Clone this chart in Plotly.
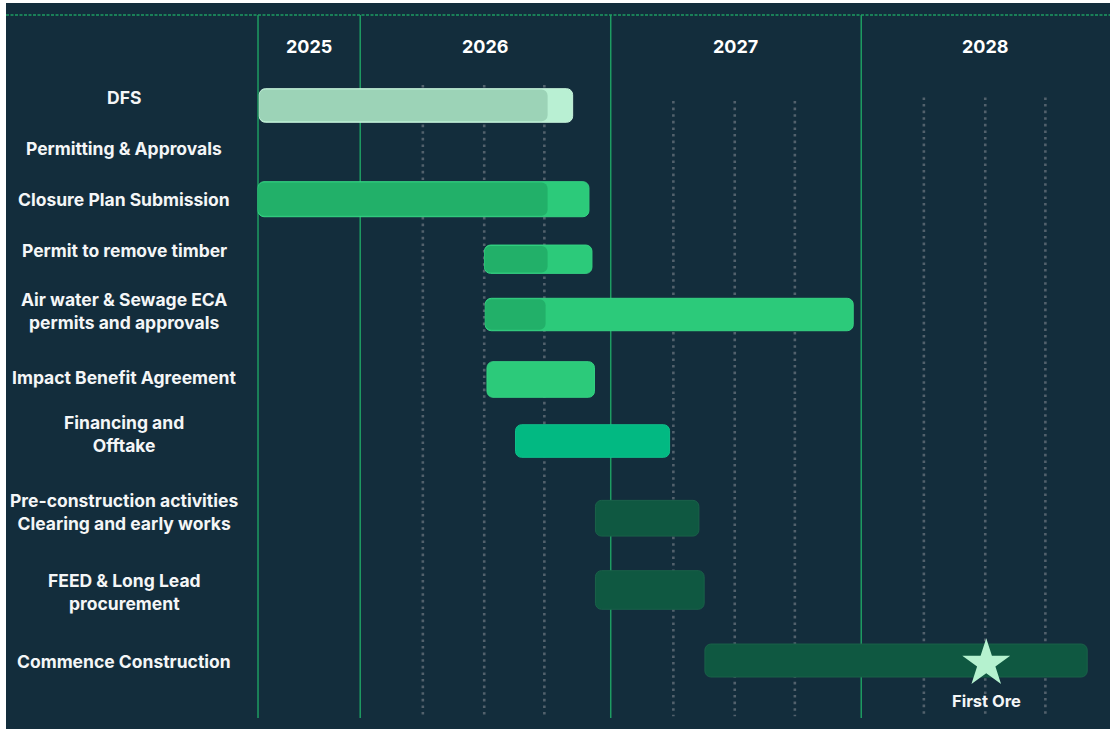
import plotly.graph_objects as go

# ---------------- data ----------------
tasks = [
    "DFS",
    "Permitting & Approvals",
    "Closure Plan Submission",
    "Permit to remove timber",
    "Air water & Sewage ECA<br>permits and approvals",
    "Impact Benefit Agreement",
    "Financing and<br>Offtake",
    "Pre-construction activities<br>Clearing and early works",
    "FEED & Long Lead<br>procurement",
    "Commence Construction",
]
# decimal-year start / finish of each activity (None = header row, no bar)
start = [2025.597, None, 2025.592, 2026.496, 2026.499, 2026.506, 2026.620, 2026.939, 2026.939, 2027.376]
finish = [2026.848, None, 2026.913, 2026.925, 2027.968, 2026.935, 2027.235, 2027.352, 2027.373, 2028.902]
# progress completed (darker overlay) up to this date
progress = [2026.748, None, 2026.748, 2026.748, 2026.740, None, None, None, None, None]
status = ["light", None, "bright", "bright", "bright", "bright", "teal", "dark", "dark", "dark"]

years = [2025, 2026, 2027, 2028]
quarter_marks = [0.25, 0.495, 0.735]
milestone_label = "First Ore"
milestone_date = 2028.499
milestone_task = "Commence Construction"

# ---------------- layout / style ----------------
X_RANGE = [2024.586, 2028.993]
Y_RANGE = [12, 0]
bar_row = [1.694, None, 3.243, 4.235, 5.149, 6.223, 7.240, 8.516, 9.702, 10.868]
label_row = [1.570, 2.413, 3.256, 4.083, 5.091, 6.182, 7.124, 8.413, 9.736, 10.876]
bar_thick = [0.555, None, 0.579, 0.468, 0.536, 0.588, 0.539, 0.590, 0.638, 0.545]

BG = "#132d3c"
LINE_GREEN = "#1e9c62"
DOT_GREY = "#52616c"
FILL = {"light": "#b9f0d3", "bright": "#2cca7a", "teal": "#02b982", "dark": "#0f5841"}
EDGE = {"light": "#c9f5dd", "bright": "#36d383", "teal": "#10c08b", "dark": "#1a6149"}
DONE = {"light": "#9cd3b7", "bright": "#22b069"}
STAR = "#b5f2cf"
FONT = "Inter"

fig = go.Figure()

idx = [i for i, s in enumerate(start) if s is not None]
fig.add_trace(go.Bar(
    orientation="h",
    y=[bar_row[i] for i in idx],
    base=[start[i] for i in idx],
    x=[finish[i] - start[i] for i in idx],
    width=[bar_thick[i] for i in idx],
    marker=dict(color=[FILL[status[i]] for i in idx],
                line=dict(color=[EDGE[status[i]] for i in idx], width=1),
                cornerradius=6),
    hovertext=[tasks[i] for i in idx], hoverinfo="text",
    showlegend=False,
))

pidx = [i for i, p in enumerate(progress) if p is not None]
fig.add_trace(go.Bar(
    orientation="h",
    y=[bar_row[i] for i in pidx],
    base=[start[i] for i in pidx],
    x=[progress[i] - start[i] for i in pidx],
    width=[bar_thick[i] - 0.03 for i in pidx],
    marker=dict(color=[DONE[status[i]] for i in pidx], line=dict(width=0),
                cornerradius=6),
    hoverinfo="skip", showlegend=False,
))

mi = tasks.index(milestone_task)
fig.add_trace(go.Scatter(
    x=[milestone_date], y=[bar_row[mi] + 0.05], mode="markers",
    marker=dict(symbol="star", size=36, color=STAR, line=dict(width=0)),
    hoverinfo="skip", showlegend=False,
))

shapes = []
# top dashed header line
shapes.append(dict(type="line", xref="paper", yref="y", x0=0, x1=1, y0=0.198, y1=0.198,
                   line=dict(color=LINE_GREEN, width=1.5, dash="3px,1.5px"), layer="below"))
# year boundary lines
first_start = min(s for s in start if s is not None)
for yv in [first_start] + years[1:]:
    shapes.append(dict(type="line", xref="x", yref="y", x0=yv, x1=yv, y0=0.198, y1=11.818,
                       line=dict(color=LINE_GREEN, width=1.5), layer="below"))
# quarter dotted lines
dot_top = {2026: 1.355, 2027: 1.62, 2028: 1.56}
for yr in years[1:]:
    for q in quarter_marks:
        shapes.append(dict(type="line", xref="x", yref="y", x0=yr + q, x1=yr + q,
                           y0=dot_top[yr], y1=11.79,
                           line=dict(color=DOT_GREY, width=2.6, dash="2.6px,4px"), layer="below"))

annotations = []
# year headers, centred in each visible year column
year_edges = [first_start] + years[1:] + [X_RANGE[1]]
for k, yr in enumerate(years):
    annotations.append(dict(x=(year_edges[k] + year_edges[k + 1]) / 2, y=0.727, xref="x", yref="y",
                            text=f"<b>{yr}</b>", showarrow=False,
                            font=dict(family=FONT, size=18, color="#ffffff")))
# task labels
for t, ly in zip(tasks, label_row):
    annotations.append(dict(x=0.1069, y=ly, xref="paper", yref="y", text=f"<b>{t}</b>",
                            showarrow=False, align="center", xanchor="center", yanchor="middle",
                            font=dict(family=FONT, size=17.5, color="#f4f6f7")))
# milestone label
annotations.append(dict(x=milestone_date, y=bar_row[mi], xref="x", yref="y",
                        text=f"<b>{milestone_label}</b>", showarrow=False, yshift=-40,
                        font=dict(family=FONT, size=16.5, color="#f4f6f7")))

fig.update_layout(
    width=1112, height=729,
    margin=dict(l=6, r=2, t=3, b=0, pad=0),
    paper_bgcolor="#ffffff", plot_bgcolor=BG,
    barmode="overlay",
    xaxis=dict(range=X_RANGE, visible=False, fixedrange=True),
    yaxis=dict(range=Y_RANGE, visible=False, fixedrange=True),
    shapes=shapes, annotations=annotations,
    font=dict(family=FONT),
)

fig.write_html("out.html",
               config={"displayModeBar": False},
               post_script="document.body.style.margin='0';document.body.style.padding='0';"
                           "document.body.style.overflow='hidden';")
